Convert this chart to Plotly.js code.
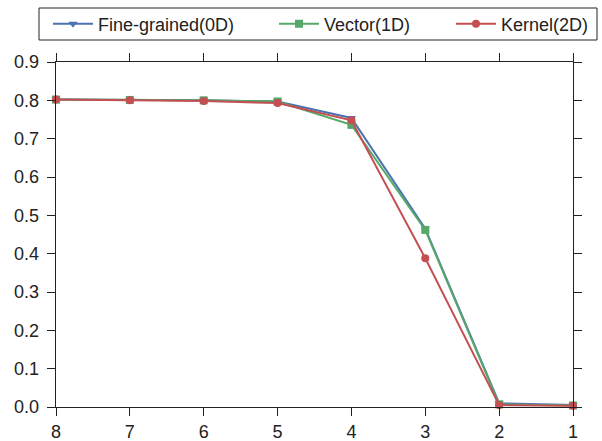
<!DOCTYPE html>
<html><head><meta charset="utf-8">
<script src="https://cdn.plot.ly/plotly-3.0.1.min.js"></script>
<style>body{margin:0;background:#fff}#c{width:602px;height:441px}</style>
</head><body><div id="c"></div>
<script>
const xs = [8, 7, 6, 5, 4, 3, 2, 1];
const fine = [0.802, 0.801, 0.800, 0.797, 0.754, 0.465, 0.010, 0.005];
const vector = [0.802, 0.801, 0.800, 0.797, 0.736, 0.462, 0.007, 0.004];
const kernel = [0.802, 0.800, 0.798, 0.793, 0.748, 0.388, 0.005, 0.003];
const names = ['Fine-grained(0D)', 'Vector(1D)', 'Kernel(2D)'];
const colors = ['#4C72B0', '#55A868', '#C44E52'];
const symbols = ['triangle-down', 'square', 'circle'];
const series = [fine, vector, kernel];
const legendIds = ['legend', 'legend2', 'legend3'];
const data = series.map((y, i) => ({
  x: xs, y: y, name: names[i], type: 'scatter', mode: 'lines+markers',
  line: {color: colors[i], width: 2},
  marker: {color: colors[i], symbol: symbols[i], size: 8},
  cliponaxis: false, legend: legendIds[i]
}));
const FONT = 'Liberation Sans, Arial, sans-serif';
const axisBase = {showgrid: false, zeroline: false, showline: true, linecolor: '#222', linewidth: 1.3,
  mirror: 'ticks', ticks: 'outside', ticklen: 8, tickcolor: '#222',
  tickfont: {family: FONT, size: 18, color: '#222'}};
const legX = [48, 274, 451];
function leg(px) {
  return {orientation: 'h', xref: 'container', yref: 'container', x: px / 602, xanchor: 'left',
    y: 1 - 24 / 441, yanchor: 'middle', borderwidth: 0, bgcolor: 'rgba(0,0,0,0)',
    font: {family: FONT, size: 18, color: '#222'}, itemwidth: 40};
}
const layout = {
  width: 602, height: 441,
  margin: {l: 56, r: 29, t: 62, b: 34},
  paper_bgcolor: '#fff', plot_bgcolor: '#fff',
  showlegend: true,
  legend: leg(legX[0]), legend2: leg(legX[1]), legend3: leg(legX[2]),
  shapes: [{type: 'rect', xref: 'paper', yref: 'paper', x0: (39 - 56) / 517, x1: (597 - 56) / 517,
    y0: (407 - 40) / 345, y1: (407 - 8) / 345, line: {color: '#222', width: 1}, fillcolor: 'rgba(0,0,0,0)'}],
  xaxis: Object.assign({}, axisBase, {range: [8, 1], tickvals: xs, ticktext: xs.map(String)}),
  yaxis: Object.assign({}, axisBase, {range: [0, 0.9], tickvals: [0,0.1,0.2,0.3,0.4,0.5,0.6,0.7,0.8,0.9], tickformat: '.1f', ticklabelstandoff: 4})
};
Plotly.newPlot('c', data, layout, {displayModeBar: false, staticPlot: true});
</script></body></html>
